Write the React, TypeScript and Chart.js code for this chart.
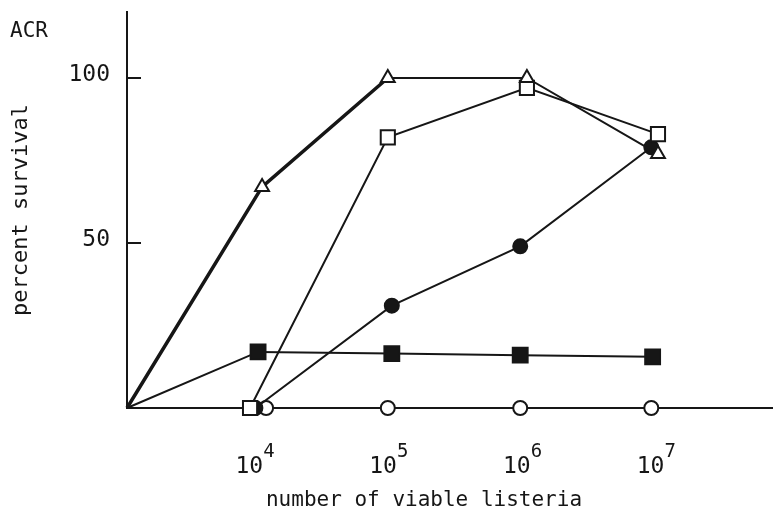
import { useEffect, useRef } from "react";
import { Chart, registerables } from "chart.js";

Chart.register(...registerables);

// Survival of ACR-treated mice against the log10 listeria inoculum.
const FONT = '"DejaVu Sans Mono", monospace';
const INK = "#161616";

const CORNER_LABEL = "ACR";
const Y_TITLE = "percent survival";
const X_TITLE = "number of viable listeria";

const X_MIN = 3.05;
const X_MAX = 7.88;
const Y_MIN = 0;
const Y_MAX = 120;
const X_TICKS = [4, 5, 6, 7]; // exponents, shown as 10^n
const Y_TICKS = [50, 100];

// open triangles
const triangleX = [3.05, 4.06, 5.0, 6.04, 7.02];
const triangleY = [0, 67, 100, 100, 77];
// open squares
const openSquareX = [3.97, 5.0, 6.04, 7.02];
const openSquareY = [0, 82, 97, 83];
// filled circles
const filledCircleX = [4.01, 5.03, 5.99, 6.97];
const filledCircleY = [0, 31, 49, 79];
// filled squares
const filledSquareX = [3.05, 4.03, 5.03, 5.99, 6.98];
const filledSquareY = [0, 17, 16.5, 16, 15.5];
// open circles
const openCircleX = [4.09, 5.0, 5.99, 6.97];
const openCircleY = [0, 0, 0, 0];

const pts = (xs: number[], ys: number[]) => xs.map((x, i) => ({ x, y: ys[i] }));

const axisDecor = {
  id: "axisDecor",
  afterDraw(chart: any) {
    const { ctx, chartArea, scales } = chart;
    const xs = scales.x;
    const ys = scales.y;
    ctx.save();
    // tick marks on the inside of the y axis
    ctx.strokeStyle = INK;
    ctx.lineWidth = 2;
    for (const v of Y_TICKS) {
      const py = Math.round(ys.getPixelForValue(v));
      ctx.beginPath();
      ctx.moveTo(chartArea.left, py);
      ctx.lineTo(chartArea.left + 14, py);
      ctx.stroke();
    }
    // powers-of-ten labels under the x axis
    ctx.fillStyle = INK;
    ctx.textBaseline = "alphabetic";
    ctx.textAlign = "left";
    for (const e of X_TICKS) {
      const px = xs.getPixelForValue(e);
      ctx.font = `23px ${FONT}`;
      const wb = ctx.measureText("10").width;
      ctx.font = `19px ${FONT}`;
      const we = ctx.measureText(String(e)).width;
      const start = px - (wb + we) / 2 + 1;
      ctx.font = `23px ${FONT}`;
      ctx.fillText("10", start, chartArea.bottom + 65);
      ctx.font = `19px ${FONT}`;
      ctx.fillText(String(e), start + wb, chartArea.bottom + 49);
    }
    // x axis title
    ctx.font = `21px ${FONT}`;
    ctx.textAlign = "center";
    ctx.fillText(X_TITLE, (chartArea.left + chartArea.right) / 2 - 26, chartArea.bottom + 98);
    // panel label
    ctx.textAlign = "left";
    ctx.fillText(CORNER_LABEL, 10, 37);
    ctx.restore();
  },
};

export default function App() {
  const ref = useRef<HTMLCanvasElement | null>(null);

  useEffect(() => {
    if (!ref.current) return;
    const base = {
      borderColor: INK,
      pointBorderColor: INK,
      pointBorderWidth: 2,
      borderWidth: 2,
      tension: 0,
      fill: false,
    };
    const chart = new Chart(ref.current, {
      type: "line",
      data: {
        datasets: [
          {
            ...base,
            label: "open triangles",
            data: pts(triangleX, triangleY),
            pointStyle: "triangle",
            pointRadius: [0, 8, 8, 8, 8],
            pointBackgroundColor: "#ffffff",
            segment: { borderWidth: (c: any) => (c.p0DataIndex < 2 ? 3.5 : 2) },
          },
          {
            ...base,
            label: "open squares",
            data: pts(openSquareX, openSquareY),
            pointStyle: "rect",
            pointRadius: 10,
            pointBackgroundColor: "#ffffff",
          },
          {
            ...base,
            label: "filled circles",
            data: pts(filledCircleX, filledCircleY),
            pointStyle: "circle",
            pointRadius: 7,
            pointBackgroundColor: INK,
          },
          {
            ...base,
            label: "filled squares",
            data: pts(filledSquareX, filledSquareY),
            pointStyle: "rect",
            pointRadius: [0, 10.5, 10.5, 10.5, 10.5],
            pointBackgroundColor: INK,
          },
          {
            ...base,
            label: "open circles",
            data: pts(openCircleX, openCircleY),
            showLine: false,
            pointStyle: "circle",
            pointRadius: 7,
            pointBackgroundColor: "#ffffff",
          },
        ],
      },
      options: {
        responsive: false,
        animation: false,
        clip: false,
        layout: { autoPadding: false, padding: { top: 12, right: 0, left: 0, bottom: 0 } },
        plugins: { legend: { display: false }, tooltip: { enabled: false } },
        scales: {
          x: {
            type: "linear",
            min: X_MIN,
            max: X_MAX,
            grid: { display: false, drawTicks: false },
            border: { display: true, color: INK, width: 2 },
            ticks: { display: false },
            afterFit: (s: any) => {
              s.height = 109;
              s.paddingLeft = 0;
              s.paddingRight = 0;
            },
          },
          y: {
            type: "linear",
            min: Y_MIN,
            max: Y_MAX,
            grid: { display: false, drawTicks: false },
            border: { display: true, color: INK, width: 2 },
            afterBuildTicks: (s: any) => {
              s.ticks = Y_TICKS.map((value) => ({ value }));
            },
            ticks: {
              color: INK,
              font: { family: FONT, size: 23 },
              padding: 17,
              labelOffset: -3,
            },
            title: {
              display: true,
              text: Y_TITLE,
              color: INK,
              font: { family: FONT, size: 22 },
              padding: { top: 8, bottom: 0 },
            },
            afterFit: (s: any) => {
              s.width = 127;
              s.paddingTop = 0;
              s.paddingBottom = 0;
            },
          },
        },
      },
      plugins: [axisDecor],
    } as any);
    return () => chart.destroy();
  }, []);

  return (
    <div style={{ position: "fixed", left: 0, top: 0, width: 773, height: 517, background: "#ffffff" }}>
      <canvas ref={ref} width={773} height={517} style={{ display: "block" }} />
    </div>
  );
}
